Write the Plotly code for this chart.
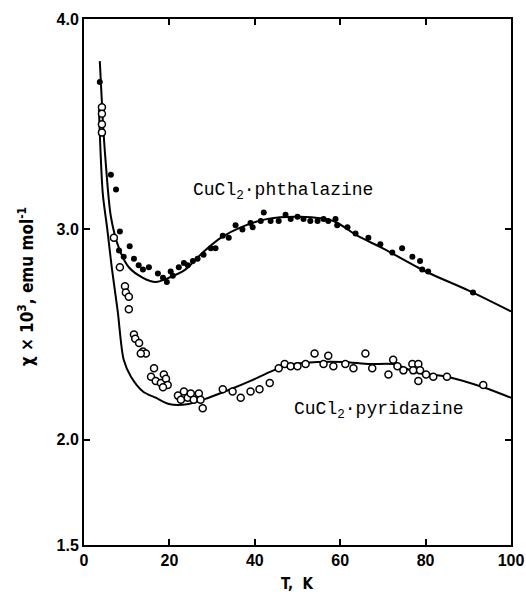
import plotly.graph_objects as go

# Fitted curves
phth_curve_T = [3.7, 4.4, 5.0, 6.3, 8.2, 10.5, 13.8, 16.8, 19.9, 23.8, 27.8, 32, 36.7, 43, 50.7, 58.4, 64, 70, 80, 90, 100]
phth_curve_chi = [3.80, 3.52, 3.34, 3.06, 2.91, 2.82, 2.77, 2.75, 2.77, 2.81, 2.89, 2.96, 3.01, 3.05, 3.06, 3.04, 2.97, 2.91, 2.80, 2.71, 2.61]

pyr_curve_T = [3.5, 4.4, 5.4, 6.5, 7.9, 9.3, 11.0, 13.8, 16.8, 19.9, 24.5, 29.2, 34.3, 39, 44.4, 49, 54.7, 60.7, 67, 72.4, 78, 85, 93.5, 100]
pyr_curve_chi = [3.57, 3.17, 3.01, 2.82, 2.61, 2.38, 2.30, 2.23, 2.20, 2.17, 2.17, 2.20, 2.24, 2.28, 2.33, 2.36, 2.37, 2.37, 2.36, 2.36, 2.32, 2.30, 2.25, 2.20]

# Measured points: CuCl2-phthalazine (filled)
phth_T = [3.7, 6.3, 7.5, 8.4, 10.7, 8.2, 9.3, 11.7, 12.8, 13.8, 15.2, 17.3, 18.5, 19.4, 20.3, 20.8, 22.2, 23.4, 24.3, 25.5, 26.6,
          28.0, 29.7, 30.8, 32.5, 33.9, 35.5, 37.1, 39.0, 39.5, 42.1, 41.4, 43.7, 45.6, 47.2, 48.4, 50.0, 51.4, 53.0, 54.7,
          56.1, 57.2, 58.9, 59.3, 61.7, 63.6, 66.6, 69.4, 72.2, 74.5, 76.9, 78.7, 79.2, 80.6, 91.1]
phth_chi = [3.70, 3.26, 3.19, 2.99, 2.92, 2.90, 2.87, 2.86, 2.83, 2.81, 2.82, 2.79, 2.77, 2.75, 2.80, 2.78, 2.82, 2.84, 2.83, 2.85, 2.86,
            2.88, 2.91, 2.91, 2.97, 2.96, 3.02, 3.00, 3.03, 3.01, 3.08, 3.04, 3.04, 3.04, 3.07, 3.05, 3.06, 3.05, 3.04, 3.04,
            3.05, 3.04, 3.05, 3.02, 3.01, 2.98, 2.96, 2.93, 2.89, 2.91, 2.87, 2.85, 2.81, 2.80, 2.70]

# Measured points: CuCl2-pyridazine (open)
pyr_T = [4.2, 4.2, 4.2, 4.2, 7.0, 8.4, 9.6, 9.8, 10.5, 10.5, 11.7, 12.0, 12.9, 13.8, 14.5, 13.3, 16.4, 15.7, 16.8, 18.0,
         18.7, 19.2, 19.6, 18.5, 22.0, 23.4, 22.7, 24.3, 25.0, 25.7, 26.9, 27.3, 27.8,
         32.5, 34.8, 36.7, 39.0, 41.1, 43.5, 45.6, 47.0, 48.4, 50.0, 51.9, 54.0, 56.1, 57.2, 58.4, 61.2, 63.1, 65.9, 67.5,
         71.3, 72.4, 73.4, 74.8, 76.9, 78.3, 77.1, 78.7, 78.3, 80.1, 81.8, 85.0, 93.5]
pyr_chi = [3.58, 3.55, 3.50, 3.46, 2.96, 2.82, 2.73, 2.70, 2.68, 2.62, 2.50, 2.48, 2.46, 2.42, 2.41, 2.41, 2.34, 2.30, 2.28, 2.27,
           2.31, 2.29, 2.26, 2.25, 2.21, 2.23, 2.19, 2.20, 2.22, 2.19, 2.22, 2.19, 2.15,
           2.24, 2.23, 2.20, 2.23, 2.24, 2.27, 2.34, 2.36, 2.35, 2.35, 2.36, 2.41, 2.36, 2.40, 2.35, 2.36, 2.34, 2.41, 2.34,
           2.31, 2.38, 2.35, 2.33, 2.36, 2.36, 2.33, 2.33, 2.28, 2.31, 2.30, 2.30, 2.26]

x_ticks = [0, 20, 40, 60, 80, 100]
y_ticks = [1.5, 2.0, 3.0, 4.0]
y_ticklabels = ["1.5", "2.0", "3.0", "4.0"]

label_font = "Liberation Sans Narrow, DejaVu Sans Condensed, DejaVu Sans"
tick_font = "Liberation Sans, Arial, sans-serif"
mono = "Liberation Mono, DejaVu Sans Mono, monospace"

fig = go.Figure()
fig.add_trace(go.Scatter(x=phth_curve_T, y=phth_curve_chi, mode="lines",
                         line=dict(color="black", width=2, shape="spline", smoothing=0.8), showlegend=False))
fig.add_trace(go.Scatter(x=pyr_curve_T, y=pyr_curve_chi, mode="lines",
                         line=dict(color="black", width=2, shape="spline", smoothing=0.8), showlegend=False))
fig.add_trace(go.Scatter(x=phth_T, y=phth_chi, mode="markers",
                         marker=dict(color="black", size=6, line=dict(width=0)), showlegend=False))
fig.add_trace(go.Scatter(x=pyr_T, y=pyr_chi, mode="markers",
                         marker=dict(color="white", size=7, line=dict(color="black", width=1.5)), showlegend=False))

fig.add_annotation(x=46.7, y=3.18, text="CuCl<sub>2</sub>·phthalazine", showarrow=False,
                   font=dict(family=mono, size=18, color="black"))
fig.add_annotation(x=69.0, y=2.14, text="CuCl<sub>2</sub>·pyridazine", showarrow=False,
                   font=dict(family=mono, size=18, color="black"))

fig.add_annotation(xref="paper", yref="paper", x=0.5, y=0, yanchor="middle", yshift=-39,
                   text="<b>T,  K</b>", showarrow=False, font=dict(family=label_font, size=15, color="black"))
fig.add_annotation(xref="paper", yref="paper", x=0, y=0.49, xanchor="center", xshift=-58, textangle=-90,
                   text="<b>χ × 10<sup>3</sup>, emu mol<sup>-1</sup></b>", showarrow=False,
                   font=dict(family=label_font, size=17, color="black"))

axis_common = dict(showline=True, linecolor="black", linewidth=2, mirror="ticks", ticks="inside",
                   ticklen=6, tickwidth=2, tickcolor="black", showgrid=False, zeroline=False,
                   ticklabeloverflow="allow", automargin=False,
                   tickfont=dict(family=tick_font, size=16, color="black"))
fig.update_xaxes(range=[0, 100], tickvals=x_ticks, ticktext=[f"<b>{v}</b>" for v in x_ticks], **axis_common)
fig.update_yaxes(range=[1.5, 4.0], tickvals=y_ticks, ticktext=[f"<b>{v}</b>" for v in y_ticklabels], **axis_common)

fig.update_layout(width=526, height=597, margin=dict(l=84, r=15, t=19, b=52, autoexpand=False),
                  plot_bgcolor="white", paper_bgcolor="white")
fig.write_html("out.html", config={"displayModeBar": False},
               post_script="document.body.style.margin='0';document.body.style.overflow='hidden';")
